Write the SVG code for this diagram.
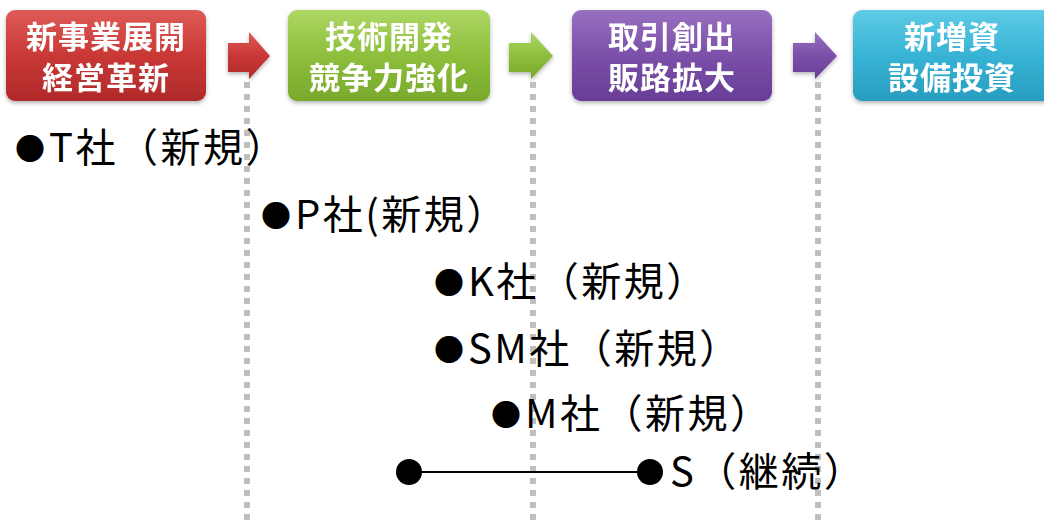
<svg xmlns="http://www.w3.org/2000/svg" width="1044" height="524" viewBox="0 0 1044 524">
<defs>
<linearGradient id="gRed" x1="0" y1="0" x2="0" y2="1"><stop offset="0" stop-color="#de5b57"/><stop offset="0.5" stop-color="#c93836"/><stop offset="1" stop-color="#b02a2a"/></linearGradient>
<linearGradient id="gGreen" x1="0" y1="0" x2="0" y2="1"><stop offset="0" stop-color="#add764"/><stop offset="0.5" stop-color="#8dbf3c"/><stop offset="1" stop-color="#78a92b"/></linearGradient>
<linearGradient id="gPurple" x1="0" y1="0" x2="0" y2="1"><stop offset="0" stop-color="#9870c0"/><stop offset="0.5" stop-color="#7b50a9"/><stop offset="1" stop-color="#683d96"/></linearGradient>
<linearGradient id="gTeal" x1="0" y1="0" x2="0" y2="1"><stop offset="0" stop-color="#5ecbe5"/><stop offset="0.5" stop-color="#38b3d5"/><stop offset="1" stop-color="#289dc0"/></linearGradient>
<filter id="sh" x="-10%" y="-10%" width="120%" height="130%"><feDropShadow dx="0" dy="2" stdDeviation="2" flood-color="#000" flood-opacity="0.3"/></filter>
<style>
.box{filter:url(#sh);}
.ht{font-family:"Noto Sans CJK JP","Noto Sans",sans-serif;font-weight:bold;font-size:31px;fill:#fff;text-anchor:middle;letter-spacing:1px;}
.bt{font-family:"Noto Sans CJK JP","Noto Sans",sans-serif;font-size:40px;fill:#000;letter-spacing:2.5px;}
.bd{font-size:30px;letter-spacing:0;}
.dot{stroke:#bfbfbf;stroke-width:6;stroke-dasharray:6 6;fill:none;}
</style>
</defs>
<rect width="1044" height="524" fill="#fff"/>
<g id="guides">
<line class="dot" x1="247" y1="82" x2="247" y2="524"/>
<line class="dot" x1="533" y1="82" x2="533" y2="524"/>
<line class="dot" x1="818" y1="82" x2="818" y2="524"/>
</g>
<g id="node-red" class="box">
<rect x="6" y="10" width="200" height="91" rx="9" fill="url(#gRed)"/>
<text class="ht" x="106" y="48">新事業展開</text>
<text class="ht" x="106" y="89">経営革新</text>
</g>
<g id="node-green" class="box">
<rect x="288" y="10" width="202" height="91" rx="9" fill="url(#gGreen)"/>
<text class="ht" x="389" y="48">技術開発</text>
<text class="ht" x="389" y="89">競争力強化</text>
</g>
<g id="node-purple" class="box">
<rect x="572" y="10" width="200" height="91" rx="9" fill="url(#gPurple)"/>
<text class="ht" x="672" y="48">取引創出</text>
<text class="ht" x="672" y="89">販路拡大</text>
</g>
<g id="node-teal" class="box">
<rect x="853" y="10" width="210" height="91" rx="9" fill="url(#gTeal)"/>
<text class="ht" x="952" y="48">新増資</text>
<text class="ht" x="952" y="89">設備投資</text>
</g>
<g id="connectors">
<polygon class="box" points="228,43 249,43 249,32 270,56 249,79 249,72 228,72" fill="url(#gRed)"/>
<polygon class="box" points="509,43 531,43 531,32 553,56 531,79 531,72 509,72" fill="url(#gGreen)"/>
<polygon class="box" points="793,43 815,43 815,32 837,56 815,79 815,72 793,72" fill="url(#gPurple)"/>
<line x1="409" y1="472" x2="650" y2="472" stroke="#000" stroke-width="2"/>
<circle cx="409" cy="472" r="13" fill="#000"/>
<circle cx="650" cy="472" r="13" fill="#000"/>
</g>
<g id="labels">
<text class="bt" x="15" y="162"><tspan class="bd" dy="-2">●</tspan><tspan dx="4" dy="2">T社（新規）</tspan></text>
<text class="bt" x="261" y="229"><tspan class="bd" dy="-2">●</tspan><tspan dx="4" dy="2">P社(新規）</tspan></text>
<text class="bt" x="434" y="296"><tspan class="bd" dy="-2">●</tspan><tspan dx="4" dy="2">K社（新規）</tspan></text>
<text class="bt" x="434" y="363"><tspan class="bd" dy="-2">●</tspan><tspan dx="4" dy="2">SM社（新規）</tspan></text>
<text class="bt" x="491" y="428"><tspan class="bd" dy="-2">●</tspan><tspan dx="4" dy="2">M社（新規）</tspan></text>
<text class="bt" x="670" y="486">S（継続）</text>
</g>
</svg>
